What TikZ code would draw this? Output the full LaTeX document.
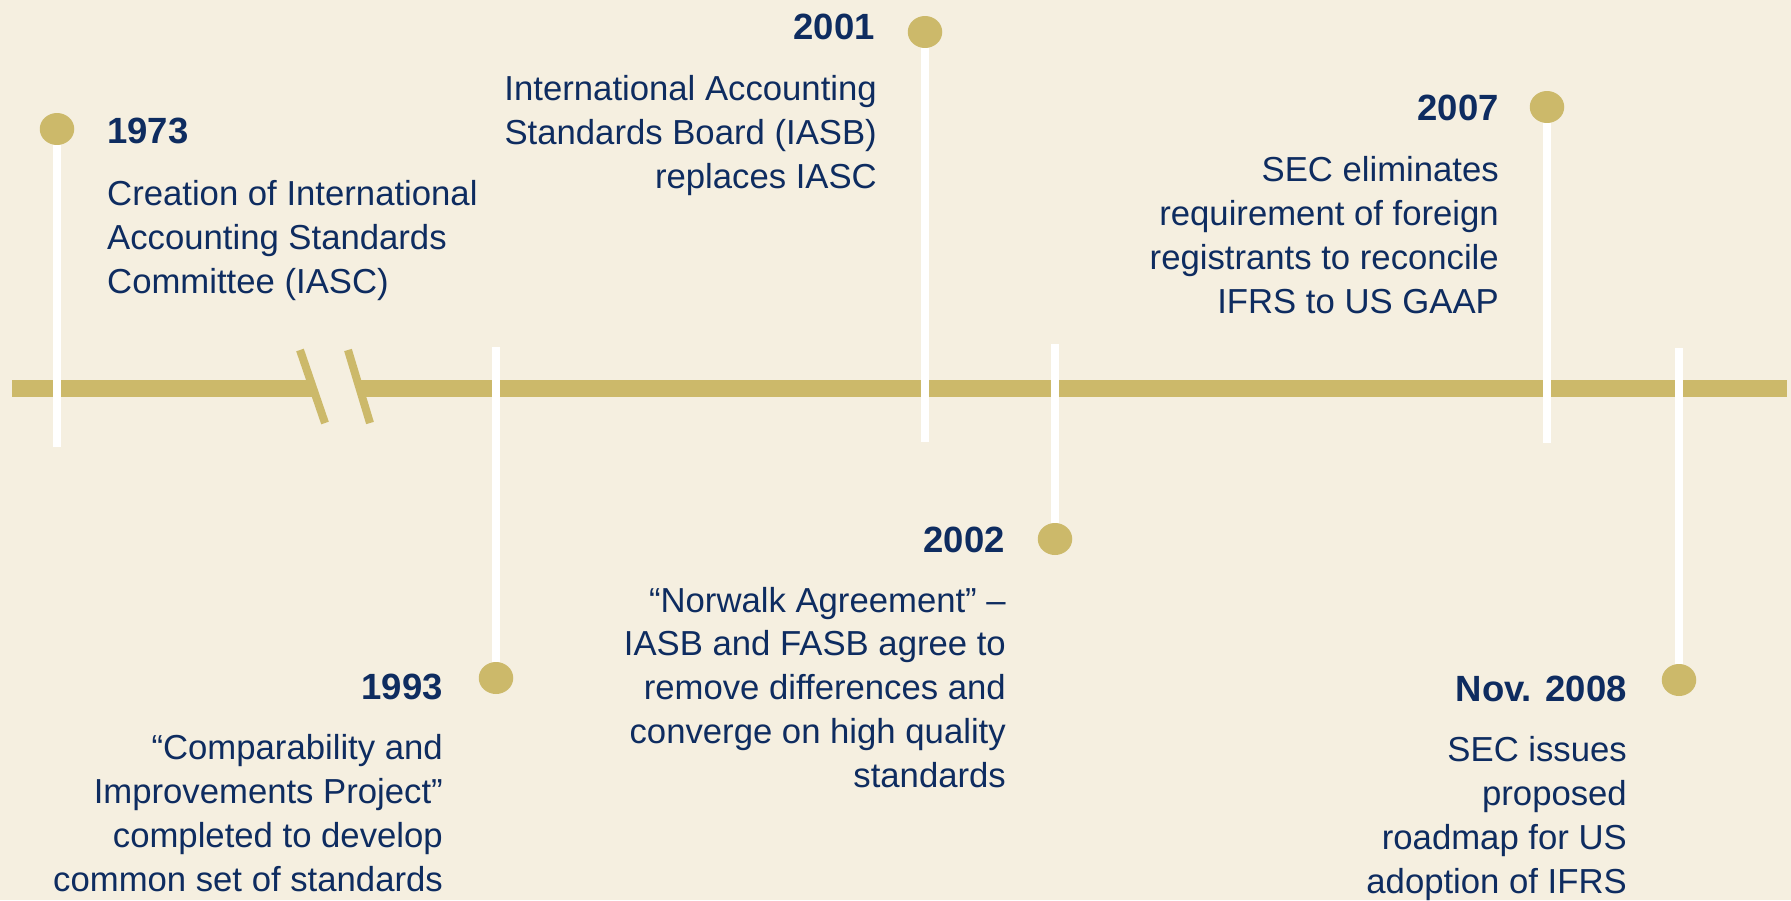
\documentclass[tikz,border=0pt]{standalone}
\usepackage{fontspec}
\setmainfont{Liberation Sans}
\usetikzlibrary{shapes.geometric}
\definecolor{bgcream}{RGB}{245,239,224}
\definecolor{gold}{RGB}{204,185,106}
\definecolor{navy}{RGB}{14,44,96}
\begin{document}
\begin{tikzpicture}[x=1pt,y=-1pt,
  bar/.style={gold, line width=16.5pt},
  brk/.style={gold, line width=8pt},
  stem/.style={white, line width=8pt},
  dot/.style={ellipse, fill=gold, minimum width=34.5pt, minimum height=32pt, inner sep=0pt},
  year/.style={text=navy, inner sep=0pt, font=\fontsize{36.5}{44}\selectfont\bfseries},
  body/.style={text=navy, inner sep=0pt, font=\fontsize{34.7}{43.7}\selectfont}]
% canvas
\fill[bgcream] (0,0) rectangle (1791,900);
\useasboundingbox (0,0) rectangle (1791,900);

% time axis with a break
\coordinate (barL) at (12,388.5);
\coordinate (brkA) at (313,388.5);
\coordinate (brkB) at (359,388.5);
\coordinate (barR) at (1787,388.5);
\draw[bar] (barL) -- (brkA);
\draw[bar] (brkB) -- (barR);
\coordinate (s1a) at (300,350);
\coordinate (s1b) at (325,423);
\coordinate (s2a) at (348,350);
\coordinate (s2b) at (370,423);
\draw[brk] (s1a) -- (s1b);
\draw[brk] (s2a) -- (s2b);

% markers above the axis
\node[dot] (d73) at (57,129) {};
\coordinate (e73) at (57,447);
\node[dot] (d01) at (925,32) {};
\coordinate (e01) at (925,442);
\node[dot] (d07) at (1547,107) {};
\coordinate (e07) at (1547,443);
% markers below the axis
\node[dot] (d93) at (496,678) {};
\coordinate (e93) at (496,347);
\node[dot] (d02) at (1055,539) {};
\coordinate (e02) at (1055,344);
\node[dot] (d08) at (1679,680) {};
\coordinate (e08) at (1679,348);

\draw[stem] (d73) -- (e73);
\draw[stem] (d01) -- (e01);
\draw[stem] (d07) -- (e07);
\draw[stem] (d93) -- (e93);
\draw[stem] (d02) -- (e02);
\draw[stem] (d08) -- (e08);

% labels (multi-line nodes are placed by the baseline of their last line)
\node[year, anchor=base west] (y73) at (107,143) {1973};
\node[body, anchor=base west, align=left] (t73) at (107,293)
  {Creation of International\\Accounting Standards\\Committee (IASC)};

\node[year, anchor=base east] (y01) at (875,39) {2001};
\node[body, anchor=base east, align=right] (t01) at (877,188)
  {International Accounting\\Standards Board (IASB)\\replaces IASC};

\node[year, anchor=base east] (y07) at (1499,120) {2007};
\node[body, anchor=base east, align=right] (t07) at (1499,313)
  {SEC eliminates\\requirement of foreign\\registrants to reconcile\\IFRS to US GAAP};

\node[year, anchor=base east] (y93) at (443,699) {1993};
\node[body, anchor=base east, align=right] (t93) at (443,891)
  {“Comparability and\\Improvements Project”\\completed to develop\\common set of standards};

\node[year, anchor=base east] (y02) at (1005,552) {2002};
\node[body, anchor=base east, align=right] (t02) at (1006,787)
  {“Norwalk Agreement” –\\IASB and FASB agree to\\remove differences and\\converge on high quality\\standards};

\node[year, anchor=base east] (y08) at (1627,701) {Nov. 2008};
\node[body, anchor=base east, align=right] (t08) at (1627,893)
  {SEC issues\\proposed\\roadmap for US\\adoption of IFRS};
\end{tikzpicture}
\end{document}
